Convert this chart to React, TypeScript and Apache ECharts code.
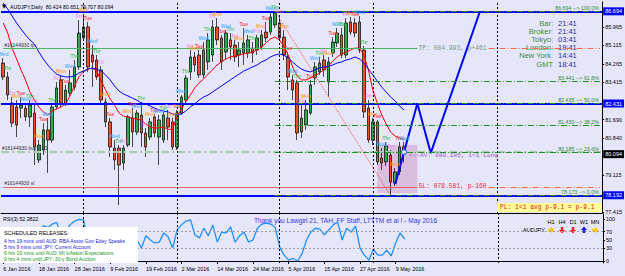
import React, { useEffect, useRef } from "react";
import * as echarts from "echarts";

const dates = [
  "2016-01-06","2016-01-07","2016-01-08","2016-01-11","2016-01-12","2016-01-13","2016-01-14","2016-01-15",
  "2016-01-18","2016-01-19","2016-01-20","2016-01-21","2016-01-22","2016-01-25","2016-01-26","2016-01-27",
  "2016-01-28","2016-01-29","2016-02-01","2016-02-02","2016-02-03","2016-02-04","2016-02-05","2016-02-08",
  "2016-02-09","2016-02-10","2016-02-11","2016-02-12","2016-02-15","2016-02-16","2016-02-17","2016-02-18",
  "2016-02-19","2016-02-22","2016-02-23","2016-02-24","2016-02-25","2016-02-26","2016-02-29","2016-03-01",
  "2016-03-02","2016-03-03","2016-03-04","2016-03-07","2016-03-08","2016-03-09","2016-03-10","2016-03-11",
  "2016-03-14","2016-03-15","2016-03-16","2016-03-17","2016-03-18","2016-03-21","2016-03-22","2016-03-23",
  "2016-03-24","2016-03-25","2016-03-28","2016-03-29","2016-03-30","2016-03-31","2016-04-01","2016-04-04",
  "2016-04-05","2016-04-06","2016-04-07","2016-04-08","2016-04-11","2016-04-12","2016-04-13","2016-04-14",
  "2016-04-15","2016-04-18","2016-04-19","2016-04-20","2016-04-21","2016-04-22","2016-04-25","2016-04-26",
  "2016-04-27","2016-04-28","2016-04-29","2016-05-02","2016-05-03","2016-05-04","2016-05-05","2016-05-06",
  "2016-05-09","2016-05-10","2016-05-11"
];

const opens = [84.30,83.66,82.45,82.27,82.22,82.22,81.81,81.99,79.82,80.28,81.21,80.74,82.27,83.52,82.45,82.91,
  83.19,84.12,85.46,85.97,84.67,84.44,83.98,82.50,81.58,80.37,80.37,79.68,80.51,81.76,81.11,81.90,
  81.07,80.88,81.81,80.88,80.74,81.76,81.58,80.42,81.99,82.59,83.89,84.58,84.67,83.75,84.35,84.67,
  85.97,85.46,84.81,85.37,85.13,84.67,84.76,84.76,84.99,84.90,85.04,85.73,85.73,86.06,86.15,85.50,
  84.58,83.52,83.38,81.11,81.44,81.99,83.61,83.89,84.44,83.42,84.76,85.23,85.60,84.67,86.20,86.15,
  86.20,84.90,82.22,80.74,81.58,79.91,79.73,80.05,78.76,79.27,80.424];
const closes = [83.66,82.82,81.53,81.44,82.36,81.81,82.36,80.42,80.51,81.21,80.74,82.27,83.15,82.45,83.05,83.38,
  84.12,85.69,85.97,84.12,84.35,83.66,82.59,81.58,80.42,79.82,79.59,80.37,81.81,81.11,81.99,81.07,
  80.42,81.58,81.07,81.67,81.90,81.34,80.42,81.99,82.73,83.61,84.58,84.21,83.75,84.90,85.37,85.97,
  85.37,84.35,85.69,85.04,84.58,84.90,85.23,85.37,84.76,85.46,85.60,85.46,86.43,86.61,85.46,84.67,
  83.66,83.05,81.07,81.76,82.13,83.29,84.12,84.30,83.98,84.35,85.27,85.69,84.67,86.15,85.73,85.69,
  84.90,82.04,80.74,81.58,79.73,79.68,80.47,78.80,79.27,80.42,80.094];
const highs = [84.53,83.89,82.73,82.59,82.73,82.45,82.59,82.36,80.74,81.53,81.76,82.41,83.42,83.75,83.29,83.98,
  84.44,86.29,86.57,86.20,85.13,84.67,84.16,82.68,81.76,80.74,80.51,80.51,81.90,82.22,82.13,82.50,
  81.30,81.76,81.95,81.90,82.04,82.13,81.76,82.13,82.82,83.75,84.90,84.81,84.90,85.27,85.69,86.29,
  86.38,85.60,85.83,85.69,85.37,85.27,85.92,85.60,85.27,85.60,85.83,86.20,86.66,86.694,86.52,85.83,
  84.81,83.75,83.52,82.36,82.59,83.52,84.35,84.58,84.67,84.58,85.50,85.92,85.92,86.38,86.43,86.38,
  86.47,85.09,82.59,81.76,81.67,80.37,80.65,80.28,79.45,80.65,80.651];
const lows = [83.52,82.59,81.34,80.88,81.76,81.62,81.34,79.59,79.68,80.05,79.22,80.61,82.18,82.27,82.31,82.78,
  83.05,83.98,85.36,83.89,83.19,83.52,82.45,81.34,79.96,79.36,77.74,79.36,80.42,80.42,80.97,80.42,
  79.96,80.74,80.88,79.59,80.61,80.74,80.28,80.28,81.90,82.45,83.52,83.89,83.61,83.61,83.98,84.35,
  85.13,83.98,84.44,84.44,84.35,84.12,84.21,84.53,84.30,84.67,84.90,85.27,85.60,85.92,85.37,84.44,
  83.05,82.59,80.74,80.84,81.21,81.90,83.29,83.75,83.66,82.73,84.58,85.04,84.53,84.53,85.60,85.50,
  84.76,81.76,80.61,80.51,79.59,79.36,79.54,78.173,78.62,79.13,79.707];

const maFast = [86.15,85.69,84.99,84.49,83.98,83.52,82.96,82.59,82.27,82.04,81.90,82.08,82.18,82.27,82.41,82.78,
  83.24,83.66,83.89,84.02,84.07,83.93,83.47,83.05,82.64,82.36,81.99,81.85,81.81,81.76,81.71,81.67,
  81.48,81.34,81.30,81.30,81.34,81.25,81.21,81.81,82.18,82.50,82.82,83.15,83.38,83.56,83.79,83.98,
  84.21,84.35,84.49,84.58,84.62,84.67,84.72,84.76,84.81,84.90,85.04,85.23,85.41,85.50,85.37,85.09,
  84.67,84.12,83.70,83.52,83.52,83.61,83.70,83.84,83.98,84.16,84.39,84.58,84.72,84.81,84.90,84.99,
  84.99,84.67,83.98,83.05,82.45,81.90,81.48,81.11,80.93,80.84,80.74];
const maSlow = [87.07,86.80,86.47,86.15,85.87,85.60,85.37,85.18,84.81,84.49,84.21,83.98,83.79,83.70,83.66,83.66,
  83.70,83.84,83.93,84.02,84.07,84.02,83.93,83.75,83.52,83.24,83.01,82.87,82.78,82.68,82.59,82.45,
  82.41,82.31,82.22,82.13,82.08,82.04,81.95,81.90,81.95,82.08,82.27,82.41,82.59,82.73,82.82,82.96,
  83.10,83.24,83.38,83.52,83.66,83.79,83.93,84.02,84.12,84.21,84.35,84.44,84.58,84.67,84.72,84.67,
  84.53,84.35,84.16,84.02,83.93,83.89,83.98,84.07,84.12,84.16,84.21,84.30,84.35,84.44,84.49,84.58,
  84.49,84.30,84.02,83.75,83.47,83.19,82.96,82.73,82.55,82.31,82.13];
const rsi = [20,12,8,10,25,20,35,12,55,84,80,88,92,60,72,86,95,99,98,45,40,28,14,8,5,4,3,30,62,45,
  50,31,60,50,43,45,67,57,31,74,86,95,98,62,55,78,60,86,45,69,67,81,45,60,69,45,50,78,88,90,
  88,80,33,14,2,6,0,17,50,69,78,76,62,74,86,93,50,78,69,83,31,14,2,28,14,14,26,12,43,67,52.3822];

const projIdx = [88, 90, 93, 96, 107];
const projVal = [78.70, 80.185, 82.43, 80.14, 86.66];

const priceTicks = [85.965, 85.115, 84.265, 83.415, 81.690, 80.840, 79.115, 77.415];
const rsiTicks = [0, 30, 50, 70, 100];
const blueLevels = [86.694, 82.431, 78.192];
const bidPrice = 80.094;
const fibLevels = [86.694, 83.441, 82.435, 81.430, 80.185, 78.173];
const fibPct = ["100.0%", "61.8%", "50.0%", "38.2%", "23.6%", "0.0%"];
const tpPrice = 84.993;
const slPrice = 78.581;
const avPrice = 80.185;
const separatorIdx = [18, 39, 62, 83, 111];

const infoLabels = ["Bar:", "Broker:", "Tokyo:", "London:", "New York:", "GMT"];
const infoValues = ["21:41", "21:41", "03:41", "19:41", "14:41", "18:41"];
const releases = [
  { t: "4 hrs 19 mins until AUD: RBA Assist Gov Edey Speaks", c: "#2222dd" },
  { t: "5 hrs 9 mins until JPY: Current Account", c: "#2222dd" },
  { t: "6 hrs 19 mins until AUD: MI Inflation Expectations", c: "#1a961a" },
  { t: "9 hrs 4 mins until JPY: 30-y Bond Auction", c: "#1a961a" },
];
const tfNames = ["H1", "H4", "D1", "W1", "MN"];
const tfDir = ["right", "down", "down", "up", "right"];

const TOTAL = 135;
const MONTHS = ["Jan","Feb","Mar","Apr","May","Jun","Jul","Aug","Sep","Oct","Nov","Dec"];
const DAYN = ["Sun","Mon","Tue","Wed","Thr","Fri","Sat"];
const DAYC: Record<string, string> = { Mon: "#ff9a00", Tue: "#ff2a2a", Wed: "#35a8ff", Thr: "#2fbf3a", Fri: "#ee7aee" };

function parts(d: string) {
  const [y, m, dd] = d.split("-").map(Number);
  return { y, m, dd, wd: new Date(Date.UTC(y, m - 1, dd)).getUTCDay() };
}

const cats: string[] = [];
const dateLabel: string[] = [];
for (let i = 0; i < TOTAL; i++) {
  if (i < dates.length) {
    const p = parts(dates[i]);
    cats.push(dates[i]);
    dateLabel.push(`${p.dd} ${MONTHS[p.m - 1]} ${p.y}`);
  } else {
    cats.push("future" + i);
    dateLabel.push("");
  }
}
const weekdays = dates.map((d) => DAYN[parts(d).wd]);

function arrowPts(dir: string, x: number, y: number) {
  if (dir === "right") return [[x - 3, y - 1.2], [x, y - 1.2], [x, y - 3.2], [x + 3.5, y], [x, y + 3.2], [x, y + 1.2], [x - 3, y + 1.2]];
  if (dir === "down") return [[x - 1.2, y - 3], [x + 1.2, y - 3], [x + 1.2, y], [x + 3.2, y], [x, y + 3.5], [x - 3.2, y], [x - 1.2, y]];
  return [[x - 1.2, y + 3], [x + 1.2, y + 3], [x + 1.2, y], [x + 3.2, y], [x, y - 3.5], [x - 3.2, y], [x - 1.2, y]];
}

function buildOption() {
  const last = dates.length - 1;
  const proj: (number | null)[] = new Array(TOTAL).fill(null);
  projIdx.forEach((ix, k) => (proj[ix] = projVal[k]));
  const labelInterval = (idx: number) => idx % 8 === 0 && idx < dates.length;
  const dashDot = [6, 2, 1, 2];
  const endCat = cats[TOTAL - 1];

  const mainLines: any[] = [];
  blueLevels.forEach((v) =>
    mainLines.push({
      yAxis: v,
      lineStyle: { color: "#0000ff", width: 2, type: "solid" },
      label: { show: true, position: "end", distance: 1, formatter: v.toFixed(3), color: "#fff", backgroundColor: "#0000ff", padding: [1, 2, 1, 2], fontSize: 5.5 },
    })
  );
  mainLines.push({
    yAxis: bidPrice,
    lineStyle: { color: "rgba(0,0,0,0)", width: 1 },
    label: { show: true, position: "end", distance: 1, formatter: bidPrice.toFixed(3), color: "#fff", backgroundColor: "#000", padding: [1, 2, 1, 2], fontSize: 5.5 },
  });
  mainLines.push({
    yAxis: avPrice,
    lineStyle: { color: "#a8cca8", width: 2, type: [8, 3, 2, 3] },
    label: { show: true, position: "insideStartTop", distance: 1, formatter: "#16144930 buy 0.01", color: "#333", fontSize: 5 },
  });
  fibLevels.forEach((v, k) =>
    mainLines.push([
      {
        coord: [cats[61], v],
        lineStyle: { color: "#1f8f1f", width: 1, type: dashDot },
        label: { show: true, position: "insideEndTop", distance: 1, formatter: `${v.toFixed(3)} --> ${fibPct[k]}`, color: "#2e8b2e", fontSize: 5.3 },
      },
      { coord: [endCat, v] },
    ])
  );
  mainLines.push([
    { coord: [cats[0], tpPrice], lineStyle: { color: "#4cb464", width: 1, type: "solid" },
      label: { show: true, position: "insideStartTop", distance: 1, formatter: "#16144930 tp", color: "#333", fontSize: 5 } },
    { coord: [cats[93], tpPrice] },
  ]);
  mainLines.push([
    { coord: [cats[109], tpPrice], lineStyle: { color: "#ff6a3a", width: 1, type: dashDot },
      label: { show: true, position: "start", distance: 2, formatter: "TP: 084.993, p+461", color: "#7a9a7a", fontSize: 6.3, fontFamily: "Liberation Mono" } },
    { coord: [endCat, tpPrice] },
  ]);
  mainLines.push([
    { coord: [cats[0], slPrice], lineStyle: { color: "#f06060", width: 1, type: "solid" },
      label: { show: true, position: "insideStartTop", distance: 1, formatter: "#16144930 sl", color: "#333", fontSize: 5 } },
    { coord: [cats[93], slPrice] },
  ]);
  mainLines.push([
    { coord: [cats[109], slPrice], lineStyle: { color: "#ff6a3a", width: 1, type: dashDot },
      label: { show: true, position: "start", distance: 2, formatter: "SL: 078.581, p-160", color: "#e02a2a", fontSize: 6.3, fontFamily: "Liberation Mono" } },
    { coord: [endCat, slPrice] },
  ]);
  mainLines.push([
    { coord: [cats[61], fibLevels[0]], lineStyle: { color: "#ff4a4a", width: 1, type: "dotted" }, label: { show: false } },
    { coord: [cats[87], fibLevels[5]] },
  ]);
  separatorIdx.forEach((ix) =>
    mainLines.push({ xAxis: cats[ix], lineStyle: { color: "#000", width: 1, type: [2, 2] }, label: { show: false } })
  );

  const rsiLines: any[] = [
    { yAxis: 70, lineStyle: { color: "#a0a0a0", width: 1, type: [2, 2] } },
    { yAxis: 30, lineStyle: { color: "#a0a0a0", width: 1, type: [2, 2] } },
  ];
  separatorIdx.forEach((ix) => rsiLines.push({ xAxis: cats[ix], lineStyle: { color: "#000", width: 1, type: [2, 2] } }));

  const g: any[] = [];
  g.push({ type: "text", x: 2, y: 6, style: { text: "▼", fontSize: 5.5, fontFamily: "DejaVu Sans", fill: "#000", textVerticalAlign: "middle" } });
  g.push({
    type: "text", x: 10, y: 6.5,
    style: {
      text: `AUDJPY,Daily  ${opens[last].toFixed(3)} ${highs[last].toFixed(3)} ${lows[last].toFixed(3)} ${closes[last].toFixed(3)}`,
      fontSize: 5.2, fontFamily: "Liberation Sans", fill: "#000", textVerticalAlign: "middle",
    },
  });
  infoLabels.forEach((t, k) => {
    const y = 23 + k * 8.2;
    g.push({ type: "text", x: 553, y, style: { text: t, fontSize: 7.5, fontFamily: "Liberation Sans", fill: "#3f8a3a", textAlign: "right", textVerticalAlign: "middle" } });
    g.push({ type: "text", x: 558, y, style: { text: infoValues[k], fontSize: 7.5, fontFamily: "Liberation Sans", fill: "#2a2aa8", textAlign: "left", textVerticalAlign: "middle" } });
  });
  g.push({ type: "rect", shape: { x: 497, y: 203, width: 105, height: 9 }, style: { fill: "#ffff9a" }, z: 50 });
  g.push({ type: "text", x: 500, y: 207.5, z: 51, style: { text: "PL: 1<1 avg p-9.1 = p-9.1", fontSize: 6.3, fontFamily: "Liberation Mono", fill: "#e01010", textVerticalAlign: "middle" } });
  g.push({ type: "text", x: 3, y: 218.5, style: { text: `RSI(3) ${rsi[last].toFixed(4)}`, fontSize: 5.2, fontFamily: "Liberation Sans", fill: "#000", textVerticalAlign: "middle" } });
  g.push({ type: "text", x: 254, y: 220.5, style: { text: "Thank you Lawgirl 21, TAH, FF Staff, LTTTM et al ! - May 2016", fontSize: 6.6, fontFamily: "Liberation Sans", fill: "#3636ee", textVerticalAlign: "middle" } });
  g.push({ type: "rect", shape: { x: 0, y: 227, width: 138, height: 36 }, style: { fill: "#ffffff" }, z: 50 });
  g.push({ type: "text", x: 4, y: 233.3, z: 51, style: { text: "SCHEDULED RELEASES:", fontSize: 5.4, fontFamily: "Liberation Sans", fill: "#000", textVerticalAlign: "middle" } });
  releases.forEach((r, k) =>
    g.push({ type: "text", x: 4, y: 240.7 + k * 6, z: 51, style: { text: r.t, fontSize: 5, fontFamily: "Liberation Sans", fill: r.c, textVerticalAlign: "middle" } })
  );
  g.push({ type: "text", x: 545, y: 230, style: { text: "AUDJPY", fontSize: 5.6, fontFamily: "Liberation Sans", fill: "#000", textAlign: "right", textVerticalAlign: "middle" } });
  tfNames.forEach((t, k) => {
    const cx = 551 + k * 11;
    g.push({ type: "text", x: cx, y: 222, style: { text: t, fontSize: 5.6, fontFamily: "Liberation Sans", fill: "#000", textAlign: "center", textVerticalAlign: "middle" } });
    const col = tfDir[k] === "right" ? "#ffc800" : tfDir[k] === "down" ? "#ff1a1a" : "#1a1aff";
    g.push({ type: "polygon", shape: { points: arrowPts(tfDir[k], cx, 230) }, style: { fill: col } });
  });

  return {
    animation: false,
    backgroundColor: "#e6e6fa",
    textStyle: { fontFamily: "Liberation Sans" },
    grid: [
      { left: 1, right: 22, top: 2, height: 211 },
      { left: 1, right: 22, top: 214, height: 49 },
    ],
    xAxis: [
      { type: "category", gridIndex: 0, data: cats, boundaryGap: true,
        axisLine: { show: true, lineStyle: { color: "#000", width: 1 } }, axisTick: { show: false }, axisLabel: { show: false }, splitLine: { show: false } },
      { type: "category", gridIndex: 1, data: cats, boundaryGap: true,
        axisLine: { show: true, lineStyle: { color: "#000", width: 1 } },
        axisTick: { show: true, alignWithLabel: true, interval: labelInterval, length: 3, lineStyle: { color: "#000" } },
        axisLabel: { show: true, interval: labelInterval, formatter: (_v: string, idx: number) => dateLabel[idx] || "", align: "left", fontSize: 5.5, color: "#000", margin: 3 },
        splitLine: { show: false } },
    ],
    yAxis: [
      { type: "value", gridIndex: 0, position: "right", min: 77.37, max: 87.121, scale: true,
        axisLine: { show: true, lineStyle: { color: "#000", width: 1 } },
        axisTick: { show: true, length: 2, customValues: priceTicks, lineStyle: { color: "#000" } },
        axisLabel: { show: true, customValues: priceTicks, formatter: (v: number) => v.toFixed(3), fontSize: 5.5, color: "#000", margin: 3 },
        splitLine: { show: false } },
      { type: "value", gridIndex: 1, position: "right", min: -4.76, max: 111.9,
        axisLine: { show: true, lineStyle: { color: "#000", width: 1 } },
        axisTick: { show: true, length: 2, customValues: rsiTicks, lineStyle: { color: "#000" } },
        axisLabel: { show: true, customValues: rsiTicks, formatter: (v: number) => String(v), fontSize: 5.5, color: "#000", margin: 3 },
        splitLine: { show: false } },
    ],
    series: [
      {
        type: "candlestick", xAxisIndex: 0, yAxisIndex: 0, barWidth: 3,
        data: opens.map((o, i) => [o, closes[i], lows[i], highs[i]]),
        itemStyle: { color: "#2eaa4a", color0: "#f05028", borderColor: "#000", borderColor0: "#000", borderWidth: 0.7 },
        markArea: { silent: true, itemStyle: { color: "rgba(205,150,195,0.5)" },
          data: [[{ coord: [cats[84], 80.51] }, { coord: [cats[93], 78.30] }]] },
        markLine: { silent: true, symbol: ["none", "none"], label: { show: false }, data: mainLines },
        markPoint: {
          silent: true, symbol: "rect", symbolSize: 1, itemStyle: { color: "rgba(0,0,0,0)" }, z: 10,
          data: [{
            coord: [cats[91], avPrice],
            label: { show: true, position: "right", distance: 0, offset: [0, 3], formatter: "<--AV: 080.185, 1<1 Long", color: "#9a55c4", fontSize: 6.2, fontFamily: "Liberation Mono" },
          }],
        },
      },
      { type: "line", xAxisIndex: 0, yAxisIndex: 0, data: maFast, symbol: "none", lineStyle: { color: "#ff0000", width: 1 }, z: 3 },
      { type: "line", xAxisIndex: 0, yAxisIndex: 0, data: maSlow, symbol: "none", lineStyle: { color: "#0000ff", width: 1 }, z: 3 },
      { type: "line", xAxisIndex: 0, yAxisIndex: 0, data: proj, connectNulls: true, symbol: "none", lineStyle: { color: "#0000ff", width: 2 }, z: 4 },
      { type: "scatter", xAxisIndex: 0, yAxisIndex: 0, data: [[projIdx[1], avPrice]], symbol: "circle", symbolSize: 5,
        itemStyle: { color: "#ffffff", borderColor: "#1e64ff", borderWidth: 1.2 }, z: 5 },
      { type: "scatter", xAxisIndex: 0, yAxisIndex: 0, symbolSize: 0, z: 6, silent: true,
        data: highs.map((h, i) => ({ value: [i, h], label: { color: DAYC[weekdays[i]], offset: i === 0 ? [6, 0] : [2, 0] } })),
        label: { show: true, position: "top", distance: 1.5, formatter: (p: any) => weekdays[p.dataIndex], fontSize: 5, fontWeight: "bold" },
        labelLayout: { hideOverlap: false } },
      { type: "line", xAxisIndex: 1, yAxisIndex: 1, data: rsi, symbol: "none", lineStyle: { color: "#1e90ff", width: 1.3 },
        markLine: { silent: true, symbol: ["none", "none"], label: { show: false }, data: rsiLines } },
    ],
    graphic: { elements: g },
  };
}

export default function App() {
  const ref = useRef<HTMLDivElement>(null);
  useEffect(() => {
    const chart = echarts.init(ref.current!, undefined, { renderer: "svg" });
    chart.setOption(buildOption() as any);
    return () => chart.dispose();
  }, []);
  return <div ref={ref} style={{ position: "absolute", left: 0, top: 0, width: 625, height: 276 }} />;
}
